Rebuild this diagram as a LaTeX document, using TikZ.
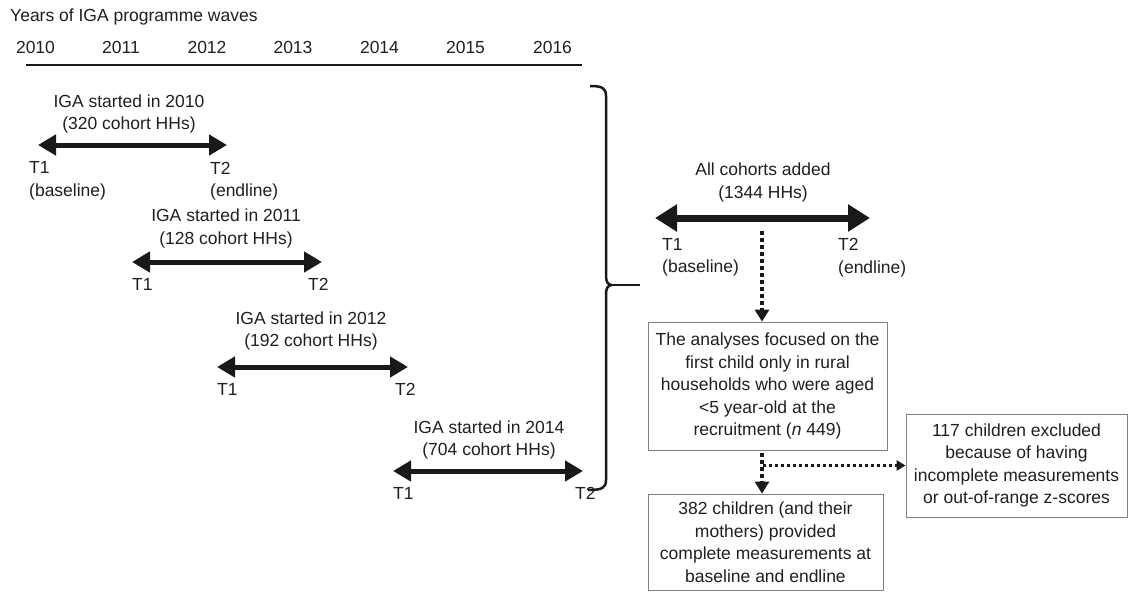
\documentclass[tikz,border=0pt]{standalone}
\usepackage{fontspec}
\setmainfont{Liberation Sans}
\usetikzlibrary{arrows.meta}
\begin{document}
\begin{tikzpicture}[x=1pt,y=-1pt,
  every node/.style={font=\fontsize{17.5}{22.5}\selectfont, inner sep=0pt, text=black!88},
  lbl/.style={align=center},
  tlab/.style={anchor=west, align=left},
  cohortarrow/.style={line width=5pt, draw=black!90, {Triangle[length=18pt,width=20pt]}-{Triangle[length=18pt,width=20pt]}},
  allarrow/.style={line width=7pt, draw=black!90, {Triangle[length=22pt,width=26pt]}-{Triangle[length=22pt,width=26pt]}},
  flowbox/.style={draw=black!50, line width=0.8pt, align=center},
  dotv/.style={line width=4pt, draw=black!90, dash pattern=on 4pt off 3pt, -{Triangle[length=12pt,width=14pt]}},
  doth/.style={line width=3pt, draw=black!90, dash pattern=on 3pt off 3pt, -{Triangle[length=9pt,width=10pt]}},
  bracestyle/.style={line width=2.5pt, draw=black!90, line join=round},
]
\useasboundingbox (0,0) rectangle (1129,599);

% title and timeline
\node[anchor=west] (title) at (10,17) {Years of IGA programme waves};
\node (y2010) at (35.5,47) {2010};
\node (y2011) at (121,47) {2011};
\node (y2012) at (207,47) {2012};
\node (y2013) at (293,47) {2013};
\node (y2014) at (379.5,47) {2014};
\node (y2015) at (465.5,47) {2015};
\node (y2016) at (552.5,47) {2016};
\coordinate (tlA) at (26,65);
\coordinate (tlB) at (582,65);
\draw[line width=2.5pt, draw=black!90] (tlA) -- (tlB);

% cohort 2010
\node[lbl] (c1) at (129,114) {IGA started in 2010\\(320 cohort HHs)};
\coordinate (c1l) at (38,145); \coordinate (c1r) at (227,145);
\draw[cohortarrow] (c1l) -- (c1r);
\node[tlab] (c1t1) at (29,181) {T1\\(baseline)};
\node[tlab] (c1t2) at (210,181) {T2\\(endline)};

% cohort 2011
\node[lbl] (c2) at (226,228.5) {IGA started in 2011\\(128 cohort HHs)};
\coordinate (c2l) at (132,262); \coordinate (c2r) at (322,262);
\draw[cohortarrow] (c2l) -- (c2r);
\node[tlab] (c2t1) at (132,284) {T1};
\node[tlab] (c2t2) at (308,284) {T2};

% cohort 2012
\node[lbl] (c3) at (311,331) {IGA started in 2012\\(192 cohort HHs)};
\coordinate (c3l) at (217,367); \coordinate (c3r) at (408,367);
\draw[cohortarrow] (c3l) -- (c3r);
\node[tlab] (c3t1) at (217,389) {T1};
\node[tlab] (c3t2) at (395,389) {T2};

% cohort 2014
\node[lbl] (c4) at (489,440) {IGA started in 2014\\(704 cohort HHs)};
\coordinate (c4l) at (393,471); \coordinate (c4r) at (583,471);
\draw[cohortarrow] (c4l) -- (c4r);
\node[tlab] (c4t1) at (393,493) {T1};
\node[tlab] (c4t2) at (575,493) {T2};

% brace
\draw[bracestyle] (590,86) .. controls (602,86) and (606,88) .. (606,96)
  -- (606,276) .. controls (606,282) and (608,285) .. (612,285)
  .. controls (608,285) and (606,288) .. (606,294)
  -- (606,480) .. controls (606,488) and (602,490) .. (588,490);
\coordinate (brtip) at (612,285);
\coordinate (brend) at (640,285);
\draw[line width=2pt, draw=black!90] (brtip) -- (brend);

% all cohorts
\node[lbl] (all) at (763,182.5) {All cohorts added\\(1344 HHs)};
\coordinate (al) at (655,218); \coordinate (ar) at (870,218);
\draw[allarrow] (al) -- (ar);
\node[tlab] (at1) at (662,257.5) {T1\\(baseline)};
\node[tlab] (at2) at (838,257.5) {T2\\(endline)};

% flow boxes
\node[flowbox, minimum width=239pt, minimum height=128pt] (an) at (767.5,386)
  {The analyses focused on the\\first child only in rural\\households who were aged\\<5 year-old at the\\recruitment (\textit{n} 449)};
\node[flowbox, minimum width=235pt, minimum height=96pt] (res) at (765.5,542)
  {382 children (and their\\mothers) provided\\complete measurements at\\baseline and endline};
\node[flowbox, minimum width=221pt, minimum height=103pt] (ex) at (1016.5,465.5)
  {117 children excluded\\because of having\\incomplete measurements\\or out-of-range z-scores};

% dotted connectors
\coordinate (d1) at (762,231);
\draw[dotv] (d1) -- (d1 |- an.north);
\coordinate (d2) at (762,453);
\draw[dotv] (d2) -- (d2 |- res.north);
\coordinate (br) at (763,465.5);
\draw[doth] (br) -- (ex.west);
\end{tikzpicture}
\end{document}
